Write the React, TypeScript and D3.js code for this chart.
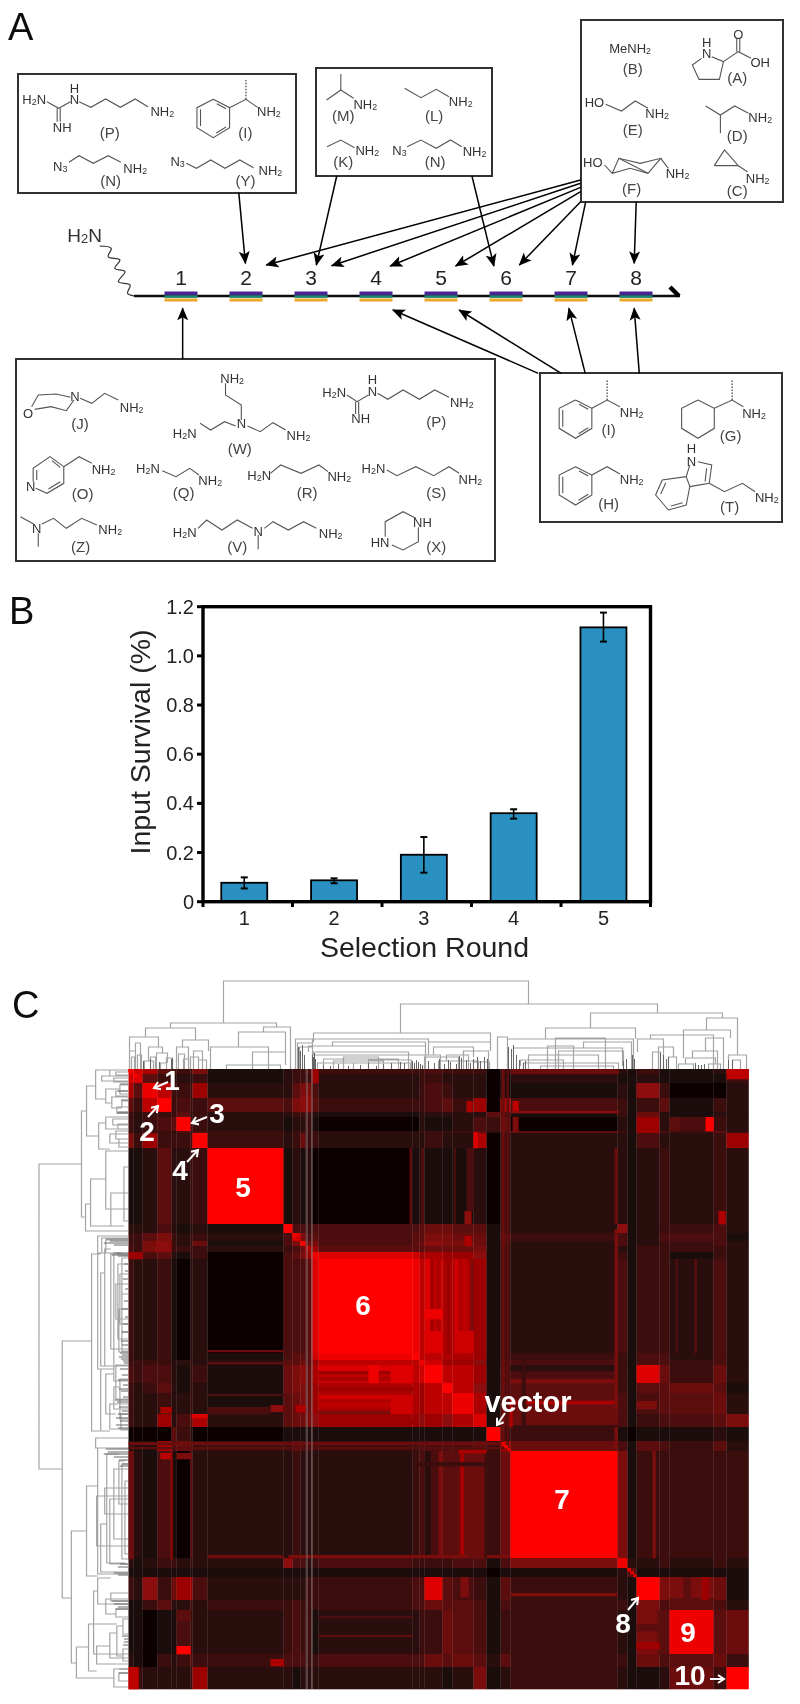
import React from "react";
import * as d3 from "d3";

// ---------- Panel B data ----------
const rounds = ["1", "2", "3", "4", "5"];
const survival = [0.077, 0.087, 0.191, 0.36, 1.116];
const errHigh = [0.099, 0.095, 0.263, 0.376, 1.176];
const errLow = [0.054, 0.075, 0.118, 0.338, 1.058];
const yTicks = [0, 0.2, 0.4, 0.6, 0.8, 1.0, 1.2];

// ---------- Panel A data ----------
const positions = ["1", "2", "3", "4", "5", "6", "7", "8"];
const boxes = [
  [18, 74, 296, 193],
  [316, 68, 492, 176],
  [581, 20, 783, 202],
  [16, 359, 495, 561],
  [540, 373, 782, 522],
];
// arrows in crop units: [x0,y0,x1,y1] (x / 1.96, y / 3)
const arrowsZ = [
  [468, 578, 481, 790], [660, 528, 620, 795], [925, 528, 968, 798],
  [1138, 540, 522, 795], [1138, 550, 650, 797], [1138, 562, 765, 798],
  [1138, 575, 893, 798], [1138, 605, 1018, 795], [1148, 605, 1122, 795],
  [1247, 605, 1243, 790], [358, 1077, 358, 925], [1055, 1120, 770, 930],
  [1100, 1120, 900, 930], [1147, 1120, 1115, 925], [1253, 1120, 1243, 925],
];
type Mol = { g: number; l: number[][]; t: (number | string)[][]; d?: number[][] };
const hexA = (x: number, y: number) => [x, y, x + 32, y + 25, x + 32, y + 85, x, y + 115, x - 32, y + 85, x - 32, y + 25, x, y];
const hexB = (x: number, y: number) => [[x + 7, y + 13, x + 25, y + 28], [x + 25, y + 83, x + 6, y + 101], [x - 25, y + 30, x - 25, y + 80]];
const molecules: Mol[] = [
  { g: 0, l: [[92, 305, 115, 325, 138, 305], [112, 325, 112, 365], [118, 325, 118, 365], [155, 305, 178, 322, 207, 297, 236, 322, 265, 297, 290, 320]],
    t: [[67, 297, "H2N"], [146, 263, "H"], [146, 297, "N"], [122, 380, "NH"], [318, 333, "NH2"], [215, 397, "(P)", 1]] },
  { g: 0, l: [hexA(418, 298), ...hexB(418, 298), [450, 323, 482, 298, 505, 322]], d: [[482, 298, 482, 240]],
    t: [[527, 333, "NH2"], [481, 397, "(I)", 1]] },
  { g: 0, l: [[135, 487, 155, 467, 183, 490, 212, 467, 237, 487]], t: [[118, 497, "N3"], [265, 503, "NH2"], [217, 541, "(N)", 1]] },
  { g: 0, l: [[365, 490, 385, 505, 413, 480, 441, 505, 470, 480, 497, 503]], t: [[348, 483, "N3"], [530, 510, "NH2"], [481, 541, "(Y)", 1]] },
  { g: 0, l: [[668, 222, 668, 270], [640, 300, 668, 270, 693, 295]], t: [[716, 312, "NH2"], [673, 345, "(M)", 1]] },
  { g: 0, l: [[793, 265, 825, 293, 855, 268, 880, 290]], t: [[903, 304, "NH2"], [851, 345, "(L)", 1]] },
  { g: 0, l: [[641, 440, 668, 420, 695, 443]], t: [[720, 451, "NH2"], [673, 483, "(K)", 1]] },
  { g: 0, l: [[798, 440, 825, 420, 855, 445, 883, 420, 905, 440]], t: [[783, 450, "N3"], [930, 452, "NH2"], [853, 483, "(N)", 1]] },
  { g: 0, l: [], t: [[1235, 143, "MeNH2"], [1240, 205, "(B)", 1]] },
  { g: 0, l: [[1375, 175, 1357, 195, 1370, 238, 1410, 238, 1418, 185, 1395, 170], [1418, 185, 1447, 155, 1472, 175], [1444, 155, 1444, 115], [1450, 155, 1450, 115]],
    t: [[1385, 125, "H"], [1385, 160, "N"], [1447, 103, "O"], [1490, 187, "OH"], [1445, 232, "(A)", 1]] },
  { g: 0, l: [[1187, 313, 1218, 333, 1245, 303, 1270, 325]], t: [[1165, 305, "HO"], [1288, 340, "NH2"], [1240, 387, "(E)", 1]] },
  { g: 0, l: [[1383, 318, 1412, 345, 1440, 318, 1467, 340], [1412, 345, 1412, 400]], t: [[1490, 350, "NH2"], [1445, 405, "(D)", 1]] },
  { g: 0, l: [[1185, 495, 1200, 520, 1235, 505, 1270, 520, 1295, 475, 1255, 490, 1213, 475, 1200, 520], [1213, 475, 1270, 520], [1295, 475, 1310, 505]],
    t: [[1162, 485, "HO"], [1328, 520, "NH2"], [1238, 565, "(F)", 1]] },
  { g: 0, l: [[1400, 497, 1420, 450, 1447, 497, 1400, 497], [1447, 497, 1465, 515]], t: [[1485, 535, "NH2"], [1445, 570, "(C)", 1]] },
  // lower boxes, crop 2
  { g: 1, l: [[62, 200, 75, 165, 110, 162, 138, 172], [68, 208, 100, 200, 130, 212, 145, 180], [157, 175, 180, 190, 205, 160, 232, 180]],
    t: [[55, 218, "O"], [147, 167, "N"], [258, 202, "NH2"], [157, 250, "(J)", 1]] },
  { g: 1, l: [[473, 240, 473, 195, 442, 165, 442, 130], [462, 258, 440, 245, 413, 270, 392, 250], [485, 258, 510, 275, 535, 248, 560, 270]],
    t: [[455, 113, "NH2"], [473, 250, "N"], [362, 278, "H2N"], [585, 285, "NH2"], [470, 325, "(W)", 1]] },
  { g: 1, l: [[680, 165, 700, 185, 722, 165], [697, 185, 697, 222], [703, 185, 703, 222], [740, 160, 760, 178, 790, 150, 822, 178, 852, 150, 880, 172]],
    t: [[730, 118, "H"], [655, 155, "H2N"], [730, 152, "N"], [707, 235, "NH"], [905, 185, "NH2"], [855, 243, "(P)", 1]] },
  { g: 1, l: [[65, 425, 65, 385, 98, 350, 125, 380, 125, 430, 92, 460, 70, 445], [72, 420, 72, 390], [102, 362, 118, 382], [118, 425, 95, 447], [125, 380, 155, 350, 180, 370]],
    t: [[60, 438, "N"], [203, 388, "NH2"], [162, 458, "(O)", 1]] },
  { g: 1, l: [[318, 392, 345, 410, 372, 385, 390, 405]], t: [[290, 385, "H2N"], [412, 420, "NH2"], [360, 455, "(Q)", 1]] },
  { g: 1, l: [[530, 400, 550, 375, 590, 400, 625, 375, 643, 395]], t: [[508, 405, "H2N"], [665, 407, "NH2"], [602, 455, "(R)", 1]] },
  { g: 1, l: [[758, 390, 778, 407, 815, 380, 850, 407, 880, 380, 900, 400]], t: [[732, 385, "H2N"], [922, 417, "NH2"], [855, 455, "(S)", 1]] },
  { g: 1, l: [[40, 530, 66, 552], [75, 580, 75, 620], [82, 552, 105, 535, 130, 565, 160, 535, 190, 555]],
    t: [[72, 565, "N"], [216, 566, "NH2"], [158, 618, "(Z)", 1]] },
  { g: 1, l: [[388, 565, 405, 540, 435, 570, 465, 540, 495, 565], [506, 585, 506, 628], [518, 565, 535, 545, 565, 570, 595, 545, 620, 565]],
    t: [[362, 575, "H2N"], [506, 573, "N"], [648, 580, "NH2"], [465, 618, "(V)", 1]] },
  { g: 1, l: [[815, 535, 790, 515, 755, 545, 755, 590], [768, 615, 790, 630, 820, 605, 820, 562]],
    t: [[828, 547, "NH"], [745, 605, "HN"], [855, 618, "(X)", 1]] },
  { g: 1, l: [hexA(1128, 180), ...hexB(1128, 180), [1160, 205, 1190, 180, 1215, 200]], d: [[1190, 180, 1190, 120]],
    t: [[1238, 217, "NH2"], [1193, 268, "(I)", 1]] },
  { g: 1, l: [hexA(1368, 180), [1400, 205, 1435, 180, 1457, 200]], d: [[1435, 180, 1435, 120]],
    t: [[1478, 220, "NH2"], [1432, 285, "(G)", 1]] },
  { g: 1, l: [hexA(1128, 380), ...hexB(1128, 380), [1160, 405, 1190, 380, 1215, 402]],
    t: [[1238, 418, "NH2"], [1193, 490, "(H)", 1]] },
  { g: 1, l: [[1345, 410, 1298, 420, 1285, 465, 1310, 510, 1345, 495, 1352, 440, 1345, 410], [1345, 410, 1352, 375], [1368, 365, 1395, 375, 1390, 430, 1352, 440], [1385, 385, 1382, 425], [1305, 428, 1295, 462], [1315, 498, 1338, 488], [1390, 430, 1420, 455, 1455, 430, 1480, 455]],
    t: [[1355, 325, "H"], [1355, 362, "N"], [1503, 470, "NH2"], [1430, 498, "(T)", 1]] },
];

// ---------- Panel C data ----------
const bandWidths = [5, 9, 15, 14, 5, 14, 2, 15, 76, 9, 8, 5, 6, 7, 94, 7, 5, 18, 10, 21, 13, 14, 10, 107, 10, 9, 23, 10, 44, 13, 22];
// upper triangle of the symmetric matrix, hex levels, row i starts at column i
const similarity = [
  "eca5333712334a3334333023213112b",
  "d53222312333722332220121121113",
  "eb3339225544223432201121 83002".replace(" ", ""),
  "f343354764533345390a43135132",
  "352322333211222225413162122",
  "f4321223100211243602192432",
  "4432333322333352453194353",
  "f323633222322a0322142239",
  "f1212001211120322123232",
  "f443444566551328123342",
  "d74545577661534124441",
  "f6745687761424123342",
  "a955566671322133332",
  "edc9a9981323133132",
  "febcaa91324133242",
  "fbbaa91333144242",
  "ec9981443144342",
  "fbb914431d6362",
  "fb81453155651",
  "ea1464145562",
  "d1564134457",
  "f331011121",
  "a64154352",
  "f7133333",
  "e223232",
  "511111",
  "f7761",
  "4542",
  "e56",
  "63",
  "f",
];
// finer cells: [row0,row1,col0,col1,level], mirrored across the diagonal
const detailCells: (number | string)[][] = [
  [48, 62, 577, 585, "f"], [48, 62, 541, 552, "5"], [338, 344, 32, 43, "a"], [384, 390, 32, 43, "b"],
  [384, 390, 48, 63, "7"], [590, 597, 142, 155, "a"], [336, 343, 142, 155, "8"], [336, 343, 167, 177, "a"],
  [382, 490, 0, 5, "6"], [598, 620, 0, 10, "b"], [382, 490, 42, 44, "8"],
  [297, 302, 190, 284, "d"], [302, 305, 190, 284, "9"], [305, 308, 190, 284, "b"], [308, 312, 190, 284, "a"],
  [318, 322, 190, 284, "9"], [326, 330, 190, 284, "c"], [333, 338, 190, 284, "b"], [342, 345, 190, 284, "7"],
  [349, 355, 190, 284, "9"], [296, 314, 240, 250, "e"], [296, 314, 262, 284, "d"], [326, 345, 262, 284, "c"],
  [332, 335, 382, 489, "a"], [316, 330, 382, 489, "5"], [296, 302, 382, 489, "2"], [304, 310, 382, 489, "4"],
  [373, 376, 0, 373, "6"], [378, 380, 0, 380, "5"], [486, 489, 79, 155, "6"], [486, 489, 160, 380, "7"],
  [373, 376, 373, 376, "e"], [376, 379, 376, 379, "f"], [379, 382, 379, 382, "d"],
  [499, 502, 499, 502, "e"], [502, 505, 502, 505, "d"], [505, 508, 505, 508, "c"],
  [164, 168, 164, 168, "e"], [168, 172, 168, 172, "c"], [177, 180, 177, 180, "c"],
  [0, 3, 0, 3, "f"], [5, 8, 5, 8, "f"], [345, 349, 63, 79, "d"], [524, 527, 382, 489, "7"],
  [529, 531, 541, 585, "5"], [555, 562, 508, 531, "5"], [573, 580, 508, 531, "9"],
  [547, 549, 190, 284, "4"], [566, 568, 190, 284, "5"],
  [382, 489, 310, 314, "7"], [382, 489, 340, 356, "6"], [382, 489, 356, 358, "3"],
  [0, 14, 183, 190, "9"], [14, 26, 172, 183, "7"], [26, 43, 172, 183, "8"],
  [508, 528, 332, 340, "7"], [381, 384, 330, 358, "a"], [393, 397, 284, 358, "3"],
  [281, 283, 79, 155, "6"], [293, 295, 79, 155, "5"], [325, 327, 79, 155, "4"], [338, 345, 79, 142, "4"],
];
const hiddenLines = [178.5, 183.5];
// dendrogram merges: [leafLeft, leafRight, height, leftChildHeight, rightChildHeight]
const merges = [
  [95, 400, 88, 46, 65], [42, 148, 46, 41, 42], [17, 67, 41, 32, 29], [1, 30, 32, 18, 22],
  [1, 7, 18, 0, 26], [7, 12, 26, 0, 0], [20, 34, 22, 8, 16], [16, 25, 8, 0, 0], [28, 39, 16, 0, 6],
  [32, 38, 6, 0, 0], [38, 44, 11, 0, 0], [54, 80, 29, 22, 18], [48, 60, 22, 0, 10], [55, 60, 10, 0, 0],
  [65, 74, 18, 0, 0], [135, 162, 42, 37, 0], [110, 157, 37, 22, 17], [82, 140, 22, 0, 0],
  [124, 157, 17, 0, 4], [98, 152, 4, 0, 0],
  [3, 6, 12, 0, 0], [9, 13, 14, 0, 0], [22, 27, 12, 0, 0], [62, 70, 12, 0, 0], [50, 56, 15, 0, 0], [70, 78, 9, 0, 0],
  [272, 529, 65, 36, 56], [185, 362, 36, 30, 27], [167, 184, 30, 0, 26], [169, 184, 26, 0, 22], [171, 184, 22, 0, 14],
  [185, 300, 30, 27, 14], [204, 297, 27, 23, 23], [180, 297, 23, 17, 0], [185, 280, 17, 14, 0], [184, 312, 14, 6, 0],
  [189, 282, 6, 0, 0], [225, 263, 6, 0, 0], [300, 362, 27, 22, 18], [305, 345, 22, 14, 12], [318, 340, 14, 8, 0], [335, 360, 18, 0, 0],
  [195, 270, 10, 0, 0], [205, 255, 8, 0, 0], [215, 250, 12, 0, 0], [240, 283, 9, 0, 0], [296, 330, 12, 0, 0], [310, 350, 8, 0, 0], [345, 361, 7, 0, 0],
  [462, 594, 56, 41, 51], [417, 507, 41, 30, 30], [369, 379, 32, 0, 0], [379, 505, 30, 27, 0], [427, 477, 31, 0, 0],
  [455, 503, 27, 21, 0], [419, 445, 23, 0, 0], [385, 494, 21, 9, 3], [392, 435, 9, 3, 0], [412, 485, 3, 0, 0],
  [395, 490, 6, 0, 0], [400, 470, 14, 0, 0], [430, 495, 18, 0, 0],
  [509, 535, 30, 17, 0], [522, 585, 34, 30, 0], [524, 532, 17, 0, 0], [530, 545, 22, 0, 12], [540, 548, 12, 0, 0],
  [578, 609, 51, 39, 14], [555, 602, 39, 11, 31], [577, 595, 31, 18, 0], [564, 589, 18, 11, 0], [557, 587, 11, 5, 5],
  [550, 565, 5, 0, 0], [580, 592, 5, 0, 0], [600, 618, 14, 9, 0], [604, 612, 9, 0, 0],
];
// tight clusters where the tree is nearly solid: [leaf, height]
const denseLeaves = [
  [15, 8], [22, 10], [31, 7], [43, 10], [44, 11], [170, 22], [172, 18], [174, 24], [176, 14], [184, 14], [185, 12], [186, 16],
  [187, 10], [195, 4], [202, 3], [210, 5], [220, 3], [232, 4], [240, 6], [248, 3], [255, 5], [263, 6], [272, 7], [276, 6],
  [284, 8], [286, 6], [288, 9], [290, 7], [292, 5], [294, 4], [300, 8], [306, 6], [311, 10], [316, 5], [320, 9], [322, 7],
  [328, 5], [331, 13], [333, 11], [338, 9], [342, 6], [345, 10], [349, 12], [352, 8], [356, 12], [359, 10], [380, 22],
  [383, 20], [385, 24], [388, 14], [391, 9], [395, 6], [397, 8], [495, 8], [498, 10], [504, 14], [506, 10], [532, 16],
  [535, 14], [538, 10], [540, 12], [567, 6], [570, 4], [573, 4], [576, 5], [600, 9], [604, 9],
];

// ---------- Panel C labels ----------
const clusterLabels: [number, number, string][] = [
  [172, 1090, "1"], [147, 1141, "2"], [217, 1123, "3"], [180, 1180, "4"], [243, 1197, "5"], [363, 1315, "6"],
  [562, 1509, "7"], [623, 1633, "8"], [688, 1642, "9"], [690, 1685, "10"],
];
const whiteArrows = [
  [168, 1082, 154, 1088], [148, 1117, 158, 1106], [207, 1117, 192, 1123], [187, 1162, 198, 1150],
  [628, 1610, 638, 1598], [710, 1679, 724, 1679], [505, 1413, 497, 1425],
];

const zx = (v: number) => v / 1.96;
const zy = (v: number, g = 0) => v / 3 + (g ? 340 : 0);
const sans = "'Liberation Sans', Arial, sans-serif";

function Chem({ x, y, s, label, size }: { x: number; y: number; s: string; label?: boolean; size?: number }) {
  const parts = s.match(/\d|[^\d]+/g) || [];
  const fs = size || (label ? 15 : 13);
  return (
    <text x={x} y={y} textAnchor="middle" dominantBaseline="central" fontFamily={sans} fontSize={fs} fill={label ? "#444" : "#333"}>
      {parts.map((p, i) =>
        /\d/.test(p) ? (
          <tspan key={i} fontSize={fs * 0.68} dy={3}>{p}</tspan>
        ) : (
          <tspan key={i} dy={i > 0 ? -3 : 0}>{p}</tspan>
        )
      )}
    </text>
  );
}

export default function App() {
  // Panel A
  const strandX = d3.scalePoint<string>().domain(positions).range([181, 636]);
  const poly = (f: number[], g: number) => {
    const pts: [number, number][] = [];
    for (let i = 0; i < f.length; i += 2) pts.push([zx(f[i]), zy(f[i + 1], g)]);
    return d3.line()(pts) as string;
  };
  const wave = d3.line().curve(d3.curveCatmullRom)([
    [195, 738], [218, 745], [212, 770], [235, 780], [225, 805], [245, 815], [232, 845], [255, 855], [250, 880], [263, 888],
  ].map(([a, b]) => [zx(a), zy(b)] as [number, number])) as string;

  // Panel B
  const barX = d3.scaleBand<string>().domain(rounds).range([203, 650.5]);
  const barY = d3.scaleLinear().domain([0, 1.2]).range([901.7, 606.7]);
  const barW = 46;

  // Panel C
  const total = d3.sum(bandWidths);
  const edges = [0, ...d3.cumsum(bandWidths)];
  const hx = d3.scaleLinear().domain([0, total]).range([128.5, 748.5]);
  const hy = d3.scaleLinear().domain([0, total]).range([1069, 1689]);
  const colour = d3.scaleLinear<string>().domain([0, 2, 15]).range(["#0a0404", "#2a0d0d", "#ff0000"]);
  const lvl = (c: string) => parseInt(c, 16);
  const cells: { a: number; b: number; c: number; d: number; v: number }[] = [];
  similarity.forEach((row, i) => {
    row.split("").forEach((ch, k) => {
      const j = i + k;
      cells.push({ a: edges[i], b: edges[i + 1], c: edges[j], d: edges[j + 1], v: lvl(ch) });
      if (i !== j) cells.push({ a: edges[j], b: edges[j + 1], c: edges[i], d: edges[i + 1], v: lvl(ch) });
    });
  });
  detailCells.forEach(([a, b, c, d, v]) => {
    cells.push({ a: a as number, b: b as number, c: c as number, d: d as number, v: lvl(v as string) });
    cells.push({ a: c as number, b: d as number, c: a as number, d: b as number, v: lvl(v as string) });
  });
  const topH = d3.scaleLinear().domain([0, 88]).range([1069, 981]);
  const leftH = d3.scaleLinear().domain([0, 88]).range([128, 39]);
  const topPath = d3.path();
  const leftPath = d3.path();
  merges.forEach(([x0, x1, h, h0, h1]) => {
    topPath.moveTo(hx(x0), topH(h0));
    topPath.lineTo(hx(x0), topH(h));
    topPath.lineTo(hx(x1), topH(h));
    topPath.lineTo(hx(x1), topH(h1));
    leftPath.moveTo(leftH(h0), hy(x0));
    leftPath.lineTo(leftH(h), hy(x0));
    leftPath.lineTo(leftH(h), hy(x1));
    leftPath.lineTo(leftH(h1), hy(x1));
  });
  const topDense = d3.path();
  const leftDense = d3.path();
  denseLeaves.forEach(([p, h]) => {
    topDense.moveTo(hx(p), topH(0));
    topDense.lineTo(hx(p), topH(h));
    leftDense.moveTo(leftH(0), hy(p));
    leftDense.lineTo(leftH(h), hy(p));
  });

  return (
    <svg width={800} height={1704} viewBox="0 0 800 1704" style={{ position: "absolute", left: 0, top: 0, background: "#fff" }}>
      <defs>
        <marker id="ah" markerUnits="userSpaceOnUse" markerWidth={14} markerHeight={12} refX={12} refY={6} orient="auto">
          <path d="M13,6 L0,0.5 L3,6 L0,11.5 Z" fill="#000" />
        </marker>
        <marker id="wh" markerUnits="userSpaceOnUse" markerWidth={10} markerHeight={10} refX={7} refY={5} orient="auto">
          <path d="M1,1 L7,5 L1,9" fill="none" stroke="#fff" strokeWidth={2} />
        </marker>
        <filter id="soft" x="-2%" y="-2%" width="104%" height="104%">
          <feGaussianBlur stdDeviation={0.55} />
        </filter>
      </defs>

      <g filter="url(#soft)">
        {/* Panel letters */}
        {[["A", 8, 40], ["B", 9, 624], ["C", 12, 1018]].map(([s, x, y]) => (
          <text key={s as string} x={x as number} y={y as number} fontFamily={sans} fontSize={38} fill="#111">{s}</text>
        ))}

        {/* Panel A */}
        {boxes.map((b, i) => (
          <rect key={i} x={b[0]} y={b[1]} width={b[2] - b[0]} height={b[3] - b[1]} fill="none" stroke="#333" strokeWidth={2} />
        ))}
        {arrowsZ.map((a, i) => (
          <line key={i} x1={zx(a[0])} y1={zy(a[1])} x2={zx(a[2])} y2={zy(a[3])} stroke="#000" strokeWidth={1.5} markerEnd="url(#ah)" />
        ))}
        {molecules.map((m, i) => (
          <g key={i}>
            {m.l.map((f, k) => <path key={k} d={poly(f, m.g)} fill="none" stroke="#555" strokeWidth={1.1} />)}
            {(m.d || []).map((f, k) => <path key={k} d={poly(f, m.g)} fill="none" stroke="#555" strokeWidth={1.4} strokeDasharray="1.5 1.5" />)}
            {m.t.map((t, k) => <Chem key={k} x={zx(t[0] as number)} y={zy(t[1] as number, m.g)} s={t[2] as string} label={!!t[3]} />)}
          </g>
        ))}
        <Chem x={zx(166)} y={zy(705)} s="H2N" size={19} />
        <path d={wave} fill="none" stroke="#333" strokeWidth={1.2} />
        <line x1={134} x2={680} y1={296} y2={296} stroke="#111" strokeWidth={2.6} />
        <line x1={670} y1={287} x2={679} y2={296} stroke="#000" strokeWidth={4.5} />
        {positions.map((p) => (
          <g key={p}>
            <rect x={strandX(p)! - 16.5} y={291.5} width={33} height={3.8} fill="#4a2394" />
            <rect x={strandX(p)! - 16.5} y={295.3} width={33} height={2.6} fill="#1d8a72" />
            <rect x={strandX(p)! - 16.5} y={298.5} width={33} height={3} fill="#eea628" />
            <text x={strandX(p)!} y={285} textAnchor="middle" fontFamily={sans} fontSize={21} fill="#222">{p}</text>
          </g>
        ))}

        {/* Panel B */}
        {rounds.map((r, i) => {
          const cx = barX(r)! + barX.bandwidth() / 2 - 3.5 + i * 0.3;
          return (
            <g key={r}>
              <rect x={cx - barW / 2} y={barY(survival[i])} width={barW} height={barY(0) - barY(survival[i])} fill="#2a90c2" stroke="#000" strokeWidth={1.8} />
              <line x1={cx} x2={cx} y1={barY(errHigh[i])} y2={barY(errLow[i])} stroke="#000" strokeWidth={1.6} />
              <line x1={cx - 3.5} x2={cx + 3.5} y1={barY(errHigh[i])} y2={barY(errHigh[i])} stroke="#000" strokeWidth={2} />
              <line x1={cx - 3.5} x2={cx + 3.5} y1={barY(errLow[i])} y2={barY(errLow[i])} stroke="#000" strokeWidth={2} />
              <text x={cx} y={925} textAnchor="middle" fontFamily={sans} fontSize={20} fill="#222">{r}</text>
            </g>
          );
        })}
        <rect x={203} y={606.7} width={447.5} height={295} fill="none" stroke="#000" strokeWidth={3.4} />
        {[0, 1, 2, 3, 4, 5].map((k) => {
          const x = k < 5 ? barX(rounds[k])! : barX(rounds[4])! + barX.bandwidth();
          return <line key={k} x1={x} x2={x} y1={901} y2={907} stroke="#000" strokeWidth={3} />;
        })}
        {yTicks.map((t) => (
          <g key={t}>
            <line x1={197} x2={203} y1={barY(t)} y2={barY(t)} stroke="#000" strokeWidth={3} />
            <text x={194} y={barY(t) + 7} textAnchor="end" fontFamily={sans} fontSize={20} fill="#222">{t === 0 ? "0" : t.toFixed(1)}</text>
          </g>
        ))}
        <text transform="translate(150,742) rotate(-90)" textAnchor="middle" fontFamily={sans} fontSize={28.5} fill="#222">Input Survival (%)</text>
        <text x={424.5} y={957} textAnchor="middle" fontFamily={sans} fontSize={28.5} fill="#222">Selection Round</text>

        {/* Panel C dendrograms */}
        <path d={topPath.toString()} fill="none" stroke="#a4a4a4" strokeWidth={1.2} />
        <path d={leftPath.toString()} fill="none" stroke="#a4a4a4" strokeWidth={1.2} />
        <path d={topDense.toString()} fill="none" stroke="#666" strokeWidth={1} />
        <path d={leftDense.toString()} fill="none" stroke="#666" strokeWidth={1} />

        {/* Panel C heat map */}
        {cells.map((c, i) => (
          <rect key={i} x={hx(c.c)} y={hy(c.a)} width={hx(c.d) - hx(c.c) + 0.3} height={hy(c.b) - hy(c.a) + 0.3} fill={colour(c.v)} />
        ))}
        {hiddenLines.map((p) => (
          <line key={p} x1={hx(p)} x2={hx(p)} y1={hy(0)} y2={hy(total)} stroke="#8a7676" strokeWidth={1} />
        ))}
        {whiteArrows.map((a, i) => (
          <line key={i} x1={a[0]} y1={a[1]} x2={a[2]} y2={a[3]} stroke="#fff" strokeWidth={2} markerEnd="url(#wh)" />
        ))}
        {clusterLabels.map(([x, y, s]) => (
          <text key={s} x={x} y={y} textAnchor="middle" fontFamily={sans} fontWeight={700} fontSize={28} fill="#fff">{s}</text>
        ))}
        <text x={528} y={1412} textAnchor="middle" fontFamily={sans} fontWeight={700} fontSize={29} fill="#fff">vector</text>
      </g>
    </svg>
  );
}
